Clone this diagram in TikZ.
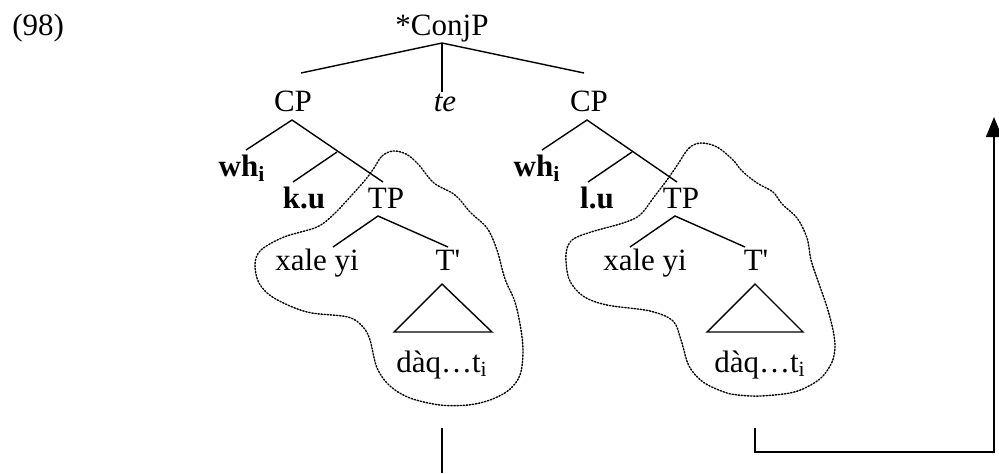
\documentclass[tikz,border=0pt]{standalone}
\usepackage{fontspec}
\setmainfont{Liberation Serif}
\newfontfamily\plainserif{Liberation Serif}
\usetikzlibrary{arrows.meta}
\begin{document}
\begin{tikzpicture}[x=0.5pt,y=-0.5pt,
  lbl/.style={inner sep=0pt, anchor=base, font=\fontsize{15.5}{18}\selectfont},
  edge/.style={line width=0.7pt},
  blob/.style={line width=0.7pt, dash pattern=on 0.7pt off 0.85pt, line cap=round},
  mover/.style={line width=0.8pt}]
\useasboundingbox[fill=white] (0,0) rectangle (999,473);

% labels
\node[lbl, anchor=base west] (ex) at (12,35) {(98)};
\node[lbl] (conj) at (442,35) {*ConjP};
\node[lbl] (cpL) at (293,111) {CP};
\node[lbl] (te) at (445,111) {\textit{te}};
\node[lbl] (cpR) at (589,111) {CP};

\node[lbl] (whL) at (242,176) {\textbf{wh}\textsubscript{\textbf{i}}};
\node[lbl] (kuL) at (304,208) {\textbf{k.u}};
\node[lbl] (tpL) at (386,208) {TP};
\node[lbl] (xyL) at (317,270) {xale yi};
\node[lbl] (tbL) at (448,270) {\plainserif T'};
\node[lbl] (dqL) at (442,372) {dàq…t\textsubscript{i}};

\node[lbl] (whR) at (537,176) {\textbf{wh}\textsubscript{\textbf{i}}};
\node[lbl] (luR) at (597,208) {\textbf{l.u}};
\node[lbl] (tpR) at (681,208) {TP};
\node[lbl] (xyR) at (645,270) {xale yi};
\node[lbl] (tbR) at (756,270) {\plainserif T'};
\node[lbl] (dqR) at (760,372) {dàq…t\textsubscript{i}};

% attachment points
\coordinate (conjB) at (442,43);
\coordinate (cpLt) at (301,73);
\coordinate (teT) at (442,92);
\coordinate (cpRt) at (584,73);

\coordinate (cpLb) at (292,120);
\coordinate (whLt) at (246,150);
\coordinate (cbarL) at (337,152);
\coordinate (kuLt) at (293,182);
\coordinate (tpLt) at (383,182);
\coordinate (tpLb) at (378,216);
\coordinate (xyLt) at (333,247);
\coordinate (tbLt) at (448,247);
\coordinate (triLa) at (442,284);
\coordinate (triLl) at (394,332);
\coordinate (triLr) at (492,332);

\coordinate (cpRb) at (587,120);
\coordinate (whRt) at (542,150);
\coordinate (cbarR) at (632,152);
\coordinate (luRt) at (588,182);
\coordinate (tpRt) at (677,182);
\coordinate (tpRb) at (675,216);
\coordinate (xyRt) at (630,247);
\coordinate (tbRt) at (745,247);
\coordinate (triRa) at (755,284);
\coordinate (triRl) at (707,332);
\coordinate (triRr) at (803,332);

\coordinate (lineLt) at (442,428);
\coordinate (lineLb) at (442,473);
\coordinate (lineRt) at (755,428);
\coordinate (cornerA) at (755,452);
\coordinate (cornerB) at (994,452);
\coordinate (arrowTip) at (994,117);

% tree edges
\draw[edge] (cpLt) -- (conjB) -- (cpRt);
\draw[edge] (conjB) -- (teT);

\draw[edge] (whLt) -- (cpLb) -- (tpLt);
\draw[edge] (cbarL) -- (kuLt);
\draw[edge] (xyLt) -- (tpLb) -- (tbLt);
\draw[edge] (triLa) -- (triLl) -- (triLr) -- cycle;

\draw[edge] (whRt) -- (cpRb) -- (tpRt);
\draw[edge] (cbarR) -- (luRt);
\draw[edge] (xyRt) -- (tpRb) -- (tbRt);
\draw[edge] (triRa) -- (triRl) -- (triRr) -- cycle;

% movement lines
\draw[mover] (lineLt) -- (lineLb);
\draw[mover, -{Triangle[length=10pt,width=8pt]}] (lineRt) -- (cornerA) -- (cornerB) -- (arrowTip);

% dotted blobs
\draw[blob] plot[smooth cycle, tension=0.55] coordinates {
  (374,168) (382,156) (393,151) (406,154) (418,164) (434,183) (455,195)
  (471,213) (487,228) (497,250) (505,279) (515,302) (521,330) (523,352)
  (520,375) (509,390) (490,400) (468,405) (440,405) (410,398) (390,386)
  (377,368) (370,340) (363,327) (348,317) (307,312) (274,298) (259,283)
  (255,264) (261,250) (284,237) (317,227) (334,214) (351,196) (366,179)};

\draw[blob] plot[smooth cycle, tension=0.55] coordinates {
  (678,164) (689,148) (701,143) (717,147) (733,160) (742,171) (757,183)
  (773,192) (782,204) (797,218) (807,238) (811,260) (818,281) (827,307)
  (833,330) (835,347) (832,362) (822,377) (807,387) (790,393) (760,396)
  (738,395) (724,392) (703,382) (689,366) (681,340) (673,321) (650,311)
  (607,305) (583,296) (569,279) (566,254) (572,240) (591,232) (623,223)
  (640,215) (654,197) (667,180)};
\end{tikzpicture}
\end{document}
